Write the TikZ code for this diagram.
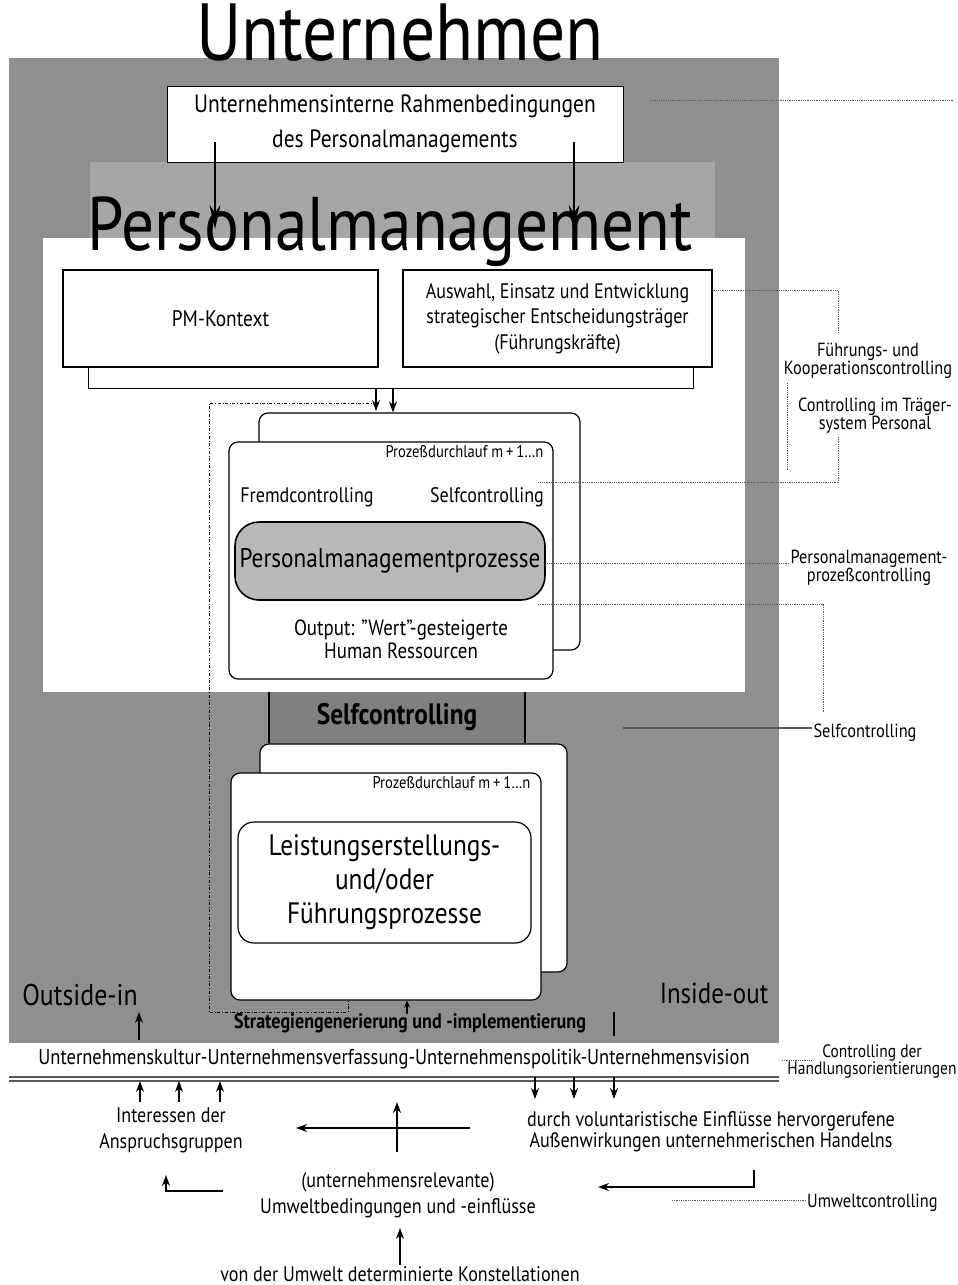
\documentclass[tikz,border=0pt]{standalone}
\usepackage{fontspec}
\setmainfont{PT Sans}[FakeStretch=0.86]
\usetikzlibrary{arrows.meta,positioning}

\definecolor{firmgray}{gray}{0.56}
\definecolor{bandgray}{gray}{0.65}
\definecolor{stripgray}{gray}{0.50}
\definecolor{coregray}{gray}{0.72}
\definecolor{hintgray}{gray}{0.35}
\newcommand{\sz}[2]{\fontsize{#1}{#2}\selectfont}

\begin{document}
\begin{tikzpicture}[
  x=1pt, y=-1pt,
  font=\sz{21}{26},
  headline/.style={font=\sz{81}{84}, inner sep=0pt, anchor=base},
  frame/.style={draw, line width=1.2pt, fill=white, align=center},
  runbox/.style={draw, line width=1.2pt, fill=white, rounded corners=9pt},
  core/.style={draw, line width=1.6pt, rounded corners=24pt, align=center},
  small/.style={font=\sz{17}{19}, inner sep=1pt},
  side/.style={font=\sz{19}{18}, align=center, inner sep=1pt},
  flow/.style={-{Stealth[length=11pt,width=8pt]}, line width=1.1pt},
  bigflow/.style={-{Stealth[length=24pt,width=11pt]}, line width=1.2pt},
  hint/.style={densely dotted, hintgray, line width=0.8pt},
  leadline/.style={hintgray, line width=1.1pt},
  chain/.style={dash dot, line width=0.7pt}
]
\useasboundingbox (0,0) rectangle (958,1285);

% ---- fields: Unternehmen / Personalmanagement ----
\fill[firmgray] (9,58) rectangle (779,1043);
\fill[bandgray] (90,162) rectangle (715,238);
\fill[white] (43,238) rectangle (745,692);
\fill[stripgray] (269,692) rectangle (525,743);
\draw[line width=1.2pt] (269,692) -- (269,743) (525,692) -- (525,743);

\node[headline] (firm) at (400,60) {Unternehmen};
\node[headline, font=\sz{76}{80}] (pmtitle) at (390,250) {Personalmanagement};

% ---- internal frame conditions ----
\node[frame, line width=0.6pt, font=\sz{25}{35}, minimum width=456, minimum height=76] (rahmen) at (395,124)
  {Unternehmensinterne Rahmenbedingungen\\des Personalmanagements};
\coordinate (rahmenL) at (215,142);
\coordinate (rahmenR) at (574,142);
\coordinate (pmL) at (215,229);
\coordinate (pmR) at (574,229);
\draw[bigflow] (rahmenL) -- (pmL);
\draw[bigflow] (rahmenR) -- (pmR);

% ---- context and carriers ----
\node[frame, font=\sz{22.5}{26}, minimum width=315, minimum height=97] (ctx) at (220.5,318.5) {PM-Kontext};
\node[frame, font=\sz{21}{25.5}, minimum width=309, minimum height=97] (carrier) at (557.5,318.5)
  {Auswahl, Einsatz und Entwicklung\\strategischer Entscheidungsträger\\(Führungskräfte)};
\draw[line width=1.2pt] ([xshift=26pt]ctx.south west) -- ++(0,21) coordinate (brL)
  -| ([xshift=-19pt]carrier.south east);
\coordinate (brA) at (376,388);
\coordinate (brB) at (393,388);
\coordinate (chainTop) at (376,403);

% ---- Personalmanagementprozesse, run m+1...n ----
\node[runbox, minimum width=321, minimum height=237] (pmback) at (419.5,531.5) {};
\node[runbox, minimum width=324, minimum height=237] (pmfront) at (391,560.5) {};
\draw[flow] (brA) -- (376,411);
\draw[flow] (brB) -- (pmback.north -| brB);
\node[small, below left=3pt and 9pt of pmfront.north east] (pmrun) {Prozeßdurchlauf m\,+\,1\ldots n};
\node (fremd) at (307,497) {Fremdcontrolling};
\node (selfin) at (487,497) {Selfcontrolling};
\node[core, fill=coregray, font=\sz{27}{30}, minimum width=310, minimum height=78] (pmcore) at (390,561)
  {Personalmanagementprozesse};
\node[align=center, font=\sz{22}{23}] (output) at (401,639) {Output: "Wert"-gesteigerte\\Human Ressourcen};

% ---- Selfcontrolling strip ----
\node[font=\sz{29.5}{30}\bfseries] (selfstrip) at (397,717) {Selfcontrolling};

% ---- Leistungserstellungs- und Führungsprozesse ----
\node[runbox, minimum width=307, minimum height=228] (lpback) at (413.5,858) {};
\node[runbox, minimum width=310, minimum height=227] (lpfront) at (386,886.5) {};
\node[small, below left=3pt and 10pt of lpfront.north east] (lprun) {Prozeßdurchlauf m\,+\,1\ldots n};
\node[core, line width=1.2pt, rounded corners=16pt, font=\sz{29.5}{34}, minimum width=293, minimum height=121] (lpcore) at (384.5,882.5)
  {Leistungserstellungs-\\und/oder\\Führungsprozesse};

% ---- chain of strategy generation ----
\coordinate (chainEnd) at (348,1012);
\draw[chain] (chainTop) -- (209,403) -- (209,1012) -- (chainEnd) -- (lpfront.south -| chainEnd);
\coordinate (stratUp) at (407,1014);
\draw[-{Stealth[length=7pt,width=6pt]}, line width=1.1pt] (stratUp) -- (lpfront.south -| stratUp);
\node[font=\sz{21}{22}\bfseries] (strat) at (410,1023) {Strategiengenerierung und -implementierung};
\coordinate (stratT) at (614,1012);
\draw[line width=1.1pt] (stratT) -- (614,1036);

\node[font=\sz{30}{32}] (outin) at (80,995) {Outside-in};
\node[font=\sz{29}{32}] (inout) at (714,993) {Inside-out};
\coordinate (outinFoot) at (139,1040);
\draw[flow] (outinFoot) -- (139,1012);

% ---- culture line ----
\node[font=\sz{21.5}{23}] (culture) at (394,1059)
  {Unternehmenskultur-Unternehmensverfassung-Unternehmenspolitik-Unternehmensvision};
\draw[gray!70!black, line width=1.1pt] (9,1077) -- (779,1077) (9,1081) -- (779,1081);
\foreach \xa in {140,179,220}
  \draw[flow] (\xa,1102) -- (\xa,1081);
\foreach \xb in {535,574,614}
  \draw[flow] (\xb,1077) -- (\xb,1099);

% ---- environment ----
\node[align=center, font=\sz{21}{26}] (claims) at (171,1130) {Interessen der\\Anspruchsgruppen};
\node[align=center, font=\sz{21}{21}] (impact) at (711,1132)
  {durch voluntaristische Einflüsse hervorgerufene\\Außenwirkungen unternehmerischen Handelns};
\coordinate (envUp) at (397,1152);
\draw[flow] (envUp) -- (397,1102);
\coordinate (envLeftS) at (470,1128);
\coordinate (envLeftE) at (296,1128);
\draw[flow] (envLeftS) -- (envLeftE);
\node (envrel) at (398,1182) {(unternehmensrelevante)};
\node (env) at (398,1208) {Umweltbedingungen und -einflüsse};
\draw[flow] (223,1191) -- (166,1191) -- (166,1175);
\draw[flow] (754,1170) -- (754,1187) -- (598,1187);
\coordinate (constFoot) at (400,1265);
\draw[flow] (constFoot) -- (400,1228);
\node[font=\sz{21}{22}] (const) at (400,1274) {von der Umwelt determinierte Konstellationen};

% ---- controlling labels on the right ----
\draw[hint] (650,100) -- (953,100);
\node[side] (coop) at (868,361) {Führungs- und\\Kooperationscontrolling};
\draw[hint] (carrier.east |- 0,290) -- (838,290) -- (838,333);
\node[side] (carrierctl) at (875,416) {Controlling im Träger-\\system Personal};
\draw[hint] (787,383) -- (787,470);
\draw[hint] (838,437) -- (838,482) -- (538,482);
\node[side] (procctl) at (869,568) {Personalmanagement-\\prozeßcontrolling};
\draw[hint] (547,563) -- (procctl.west |- 0,563);
\draw[hint] (538,604) -- (823,604) -- (823,713);
\node[side] (selfctl) at (865,733) {Selfcontrolling};
\draw[leadline] (623,728) -- (selfctl.west |- 0,728);
\node[side, font=\sz{18}{17}] (actctl) at (872,1061) {Controlling der\\Handlungsorientierungen};
\draw[hint] (782,1060) -- (812,1060);
\node[side, anchor=west] (envctl) at (806,1203) {Umweltcontrolling};
\draw[hint] (672,1200) -- (envctl.west |- 0,1200);

\end{tikzpicture}
\end{document}
